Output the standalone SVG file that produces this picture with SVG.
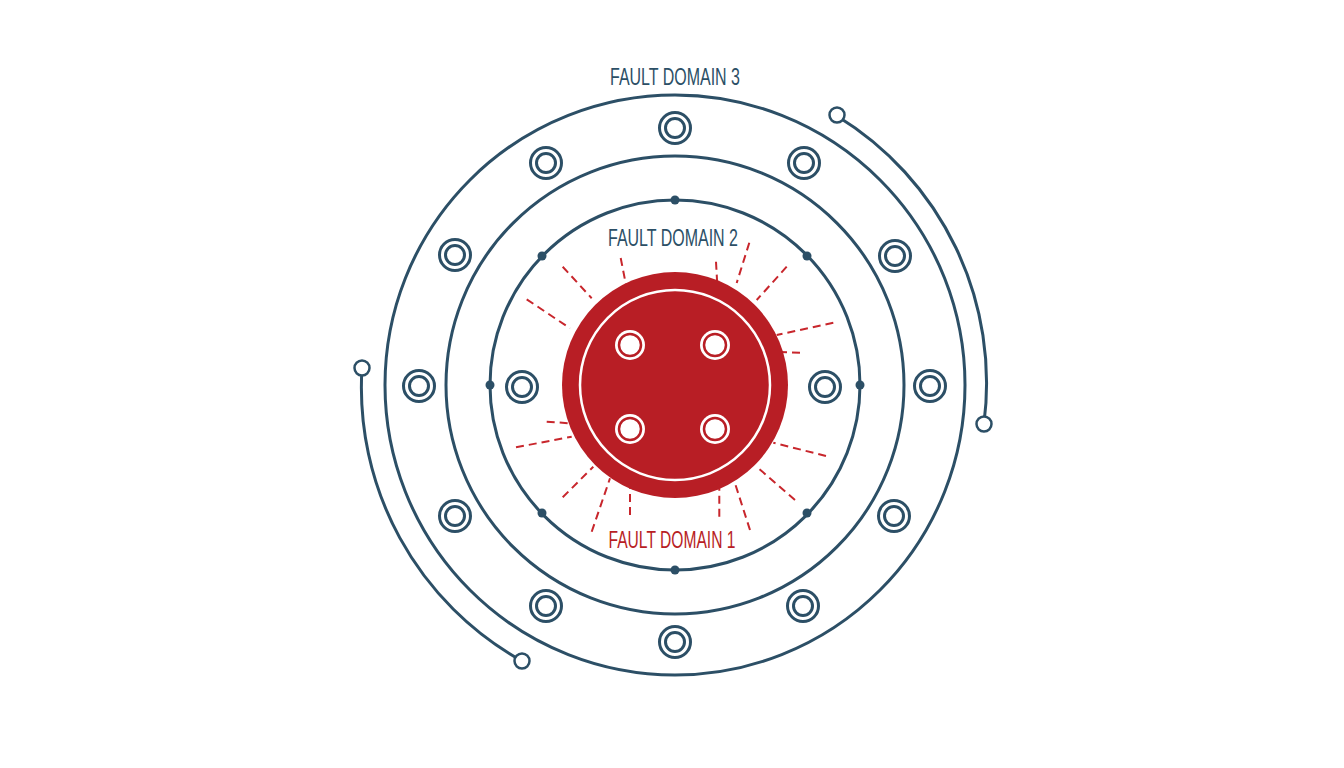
<svg xmlns="http://www.w3.org/2000/svg" width="1344" height="768" viewBox="0 0 1344 768">
<style>
.ring{fill:none;stroke:#2c4f66;stroke-width:3}
.dot{fill:#2c4f66}
.ray{stroke:#c8262c;stroke-width:2;stroke-dasharray:8 5;fill:none}
.end{fill:#fff;stroke:#2c4f66;stroke-width:2.5}
.lbl{font-family:"Liberation Sans",Arial,sans-serif;font-size:24px;text-anchor:middle}
</style>
<defs>
<g id="n"><circle r="15.5" fill="#fff" stroke="#2c4f66" stroke-width="3"/><circle r="9.5" fill="#fff" stroke="#2c4f66" stroke-width="3"/></g>
<g id="rn"><circle r="15" fill="#fff"/><circle r="11" fill="#fff" stroke="#b81e25" stroke-width="2.5"/></g>
</defs>
<rect width="1344" height="768" fill="#fff"/>
<g id="connectors">
<path class="ring" d="M837 116 A313 313 0 0 1 984 423"/>
<path class="ring" d="M362 368 A313 313 0 0 0 522 661"/>
<circle class="end" cx="837" cy="115" r="7.5"/>
<circle class="end" cx="984" cy="424" r="7.5"/>
<circle class="end" cx="362" cy="368" r="7.5"/>
<circle class="end" cx="522" cy="661" r="7.5"/>
</g>
<g id="domain3">
<circle class="ring" cx="675" cy="385" r="290"/>
<circle class="ring" cx="675" cy="385" r="229"/>
<text class="lbl" x="675" y="85" fill="#2c4f66" textLength="130" lengthAdjust="spacingAndGlyphs">FAULT DOMAIN 3</text>
</g>
<g id="domain3-nodes">
<use href="#n" x="675" y="128"/>
<use href="#n" x="546" y="163"/>
<use href="#n" x="804" y="163"/>
<use href="#n" x="455" y="255"/>
<use href="#n" x="895" y="256"/>
<use href="#n" x="419" y="386"/>
<use href="#n" x="930" y="386"/>
<use href="#n" x="455" y="516"/>
<use href="#n" x="894" y="516"/>
<use href="#n" x="546" y="606"/>
<use href="#n" x="803" y="606"/>
<use href="#n" x="675" y="642"/>
</g>
<g id="domain2">
<circle class="ring" cx="675" cy="385" r="185"/>
<circle class="dot" cx="675" cy="200" r="4.5"/>
<circle class="dot" cx="675" cy="570" r="4.5"/>
<circle class="dot" cx="490" cy="385" r="4.5"/>
<circle class="dot" cx="860" cy="385" r="4.5"/>
<circle class="dot" cx="542" cy="256" r="4.5"/>
<circle class="dot" cx="807" cy="256" r="4.5"/>
<circle class="dot" cx="542" cy="513" r="4.5"/>
<circle class="dot" cx="807" cy="513" r="4.5"/>
<text class="lbl" x="673" y="246" fill="#2c4f66" textLength="130" lengthAdjust="spacingAndGlyphs">FAULT DOMAIN 2</text>
<use href="#n" x="522" y="387"/>
<use href="#n" x="825" y="387"/>
</g>
<g id="rays">
<line class="ray" x1="620.7" y1="258" x2="626" y2="285"/>
<line class="ray" x1="562.7" y1="266.7" x2="591.7" y2="298.3"/>
<line class="ray" x1="526.7" y1="299.3" x2="570" y2="328.3"/>
<line class="ray" x1="716" y1="261.7" x2="718.3" y2="303"/>
<line class="ray" x1="749.3" y1="242.7" x2="736.7" y2="283"/>
<line class="ray" x1="786.7" y1="266.7" x2="756.7" y2="300"/>
<line class="ray" x1="833.3" y1="322.7" x2="776.7" y2="335"/>
<line class="ray" x1="800" y1="352.7" x2="780" y2="352"/>
<line class="ray" x1="546.7" y1="421.7" x2="570" y2="423.3"/>
<line class="ray" x1="516" y1="447.3" x2="571.7" y2="436.7"/>
<line class="ray" x1="562.7" y1="497.3" x2="593.3" y2="466.7"/>
<line class="ray" x1="591.7" y1="531.7" x2="610" y2="478.3"/>
<line class="ray" x1="630" y1="515" x2="630" y2="488.3"/>
<line class="ray" x1="719.3" y1="516.7" x2="719.3" y2="488.3"/>
<line class="ray" x1="750" y1="530" x2="735" y2="483.3"/>
<line class="ray" x1="795" y1="500" x2="756.7" y2="466.7"/>
<line class="ray" x1="826" y1="456" x2="773.3" y2="442.7"/>
</g>
<g id="domain1">
<circle cx="675" cy="385" r="113" fill="#b81e25"/>
<circle cx="675" cy="385" r="95" fill="none" stroke="#fff" stroke-width="2.5"/>
<use href="#rn" x="630" y="345"/>
<use href="#rn" x="715" y="345"/>
<use href="#rn" x="630" y="429"/>
<use href="#rn" x="715" y="429"/>
<text class="lbl" x="672" y="548" fill="#b81e25" textLength="127" lengthAdjust="spacingAndGlyphs">FAULT DOMAIN 1</text>
</g>
</svg>
